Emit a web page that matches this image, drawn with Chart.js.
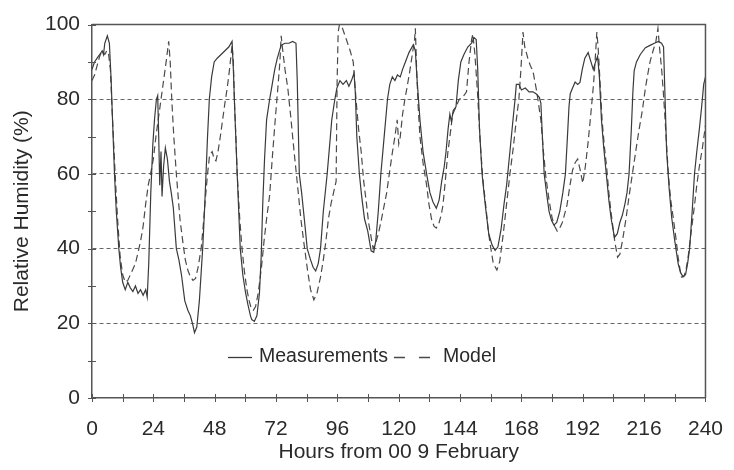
<!DOCTYPE html>
<html><head><meta charset="utf-8">
<script src="https://cdn.jsdelivr.net/npm/chart.js@4/dist/chart.umd.min.js"></script>
<style>html,body{margin:0;padding:0;background:#fff;}#wrap{width:734px;height:470px;}</style>
</head><body><div id="wrap"><canvas id="c" width="734" height="470"></canvas></div>
<script>
// ---- data ----
const seriesLabels = ['Measurements', 'Model'];
const xTitle = 'Hours from 00 9 February';
const yTitle = 'Relative Humidity (%)';
const xTickLabels = [0, 24, 48, 72, 96, 120, 144, 168, 192, 216, 240];
const yTickLabels = [0, 20, 40, 60, 80, 100];

const measHours = [0,1,2,3,4,4.5,5,6,6.8,7.5,8,8.8,9.5,10.5,11.2,12,13,14,15,16,17,18,19,20,21,21.6,22.2,23,23.8,24.5,25.2,25.7,26.1,26.5,27,27.4,28,28.7,29.5,30.3,31,31.8,33,34,35,36.3,37.5,38.5,39.3,40.1,41,42,43.3,44,44.6,45.2,45.9,46.8,47.8,49,50.5,52,53.5,54.8,55.3,55.8,56.8,58,59,60,61,62,62.5,63.5,64.5,65.5,66.2,66.8,67.5,68.3,69.5,70.5,71.5,72.5,74,75.5,77,78.5,79.8,80.3,81.1,82,83.2,84.2,85.5,86.5,87.5,88.5,89.4,90.5,92,93,93.8,95,95.8,97,98.2,99.5,100.5,101.5,102.5,103,103.6,104.6,105.5,106.6,107.9,109.2,110.2,111,112,113,114.3,115.6,116.5,117.5,118.5,119.5,120.6,121.5,122.6,124,125.7,126.5,127.2,128.3,129.5,130.9,132.2,133.4,134.7,135.8,136.8,137.8,138.5,139.3,140,140.6,141.3,142.4,143.3,144.3,145.5,147,148.5,149.5,150.3,150.9,151.6,152.6,153.8,155.2,156.5,157.7,158.8,160,161.2,162.2,163.5,164.7,165.5,166,167,168,169.5,171,172.5,173.7,175,175.6,176.2,176.9,178,178.8,179.8,180.7,181.8,183,184.2,185.2,186,186.6,187.1,188,189,190,190.9,191.8,192.8,194.1,195.2,196.1,197,197.8,198.5,199.3,200.2,201.2,202.2,203.1,204.4,205.5,206.5,207.5,208.5,209.3,210.1,211,211.6,212.1,213,214.5,216.5,218.5,220,221.6,222.8,223.6,224.2,224.8,225.8,226.8,228,229.3,230.3,231.2,232.2,233,233.8,234.8,235.7,236.6,237.6,238.5,239.3,240];
const measRH = [88,90,91,92,93,92,95,97,95,85,75,60,50,40,35,31,29,31,29.5,28.5,30,28,29,27.5,29,27,36,55,68,75,80,81,70,57,66,54,62,67,64,58,55,51,40,37,33,26,23.5,22,20,17.5,19,26,40,50,60,70,80,86,90,91,92,93,94,95.5,88,78,60,40,33,28.5,25,22,21,20.5,22,28,38,52,64,74.5,80,84,88,91,94.5,95,95,95.5,95,85,60,55,47,40,37,35,34,36,40,50,60,68,74.5,80,83,85,84,85,83.5,85,87,82,70,60,54,48,44.6,39.4,39,42,50,60,70,80,84,86,85,86.5,86,88,90,92.5,94.6,93,85,74.5,66,60,55,52.5,50.8,53,58,62,66,72,76,74,77,78,85,90,92,94,95,96.5,96,88,72,60,52,44,41,39.5,40.5,45,52,57,66,74.5,80,84,84,82.5,83,82,82,81.5,80.5,79,70,60,54,50,47.5,46.3,47,50,55,60,70,78,81.5,83,84.6,84,84.5,88,91,92.5,90,88,90,91.5,86,74.5,67,60,53,48,43,44,47,49,52,55,60,72,82,87.6,90,92,93.8,94.5,95,95.5,95,94,80,66,56,48.2,42,36,33.5,32.5,33,36,40,50,60,66,72,78,84,86];

const modelHours = [0,1,2,3,4,5,5.8,6.5,7.2,7.8,8.5,9.2,10,11,12,13,14,15,16,17,18,19,20,21,22,22.9,24,25,26,27,28,29,30,30.6,31.2,32,33,34.4,35.5,36.5,37.6,38.5,39.5,40.5,41.5,42.7,43.5,44.3,45.2,46,47,47.8,48.5,49.3,50.2,51,52,52.9,53.8,54.8,55.3,55.8,56.3,56.8,57.8,58.7,59.6,60.6,61.5,62.3,63.1,64,65,66.3,67.3,68.3,69.5,70.5,71.5,72.7,73.5,74,74.8,75.5,76.6,77.8,79.1,80.4,81.7,83,84.3,85.5,86.8,88,89.4,90.5,91.5,92.5,93.5,94.5,95.5,95.9,96.3,96.8,98,99.5,101,102.2,103.4,104.3,105.3,106.3,107.3,108.2,109.2,110,111,112,113,114.3,115.3,116.3,117.5,118.5,119.4,120,120.6,121.5,122.4,123.2,124.2,125.3,126.2,126.5,127,127.6,128.3,129.5,130.9,131.8,132.8,133.8,134.7,135.8,136.6,137.3,138.2,139.2,140.2,141.1,142.4,143.7,145,146.5,147.5,148.5,149,149.8,150.8,152,153,153.9,155,155.8,157,158.4,159.5,160.9,162.2,163.5,164.8,166,167,167.8,168.6,169.3,170.5,171.5,172.5,174,175.6,176.6,177.6,178.8,180,181,182,183,184,185.8,187,188,189,190,191,192,193,194,195,196.2,196.8,197.5,198,198.8,199.6,200.5,201.3,202.2,203,204.5,205.6,206.5,207.5,208.9,210.1,211.4,212.7,214,215.3,216.5,217.5,218.4,219.5,220.6,221.4,222,222.9,223.6,224.2,225.5,226.4,227.4,228.4,229.3,230,230.6,231.5,232.3,233.2,234.5,235.7,236.6,237.6,238.8,240];
const modelRH = [85,86.5,89,91.5,93,92,93,92,88,78,68,58,48,38,33,31,31.5,33,34.5,36,39,42,46,52,57,60,64,70,75,80,85,90,95.5,90,80,70,60,48,42,37,34,32.5,31.5,32,35,40,46,53,60,65,66,64,63.5,66,70,74,79,83,88,94.5,90,78,70,60,48,40,34,29,26,24,23.5,24.5,28,35,42,48,54.3,64,73,83,90,97,92,88,83,75,65.7,57,48,41,34.3,29,26.3,28,32.4,37,42,48,52,55,58,85,98,100,99,96,93,90,79,72,66,58,52.5,47,43,40,41.5,44,47,51.6,55,60,65.7,70,74.5,68,70,76,80,83,87,92,96,99,88,78,70,63,57,52,48,46,45.5,47,49,51.6,58,65.7,71,76,78,80,80.5,82,90,96,97.5,92,82,67,58,52.5,45,41,36,34.3,36.5,44,52,60,67,74.5,80,88,98,94,91,89,87.6,82,74.5,66,59,53,48.2,46,44.7,45.5,47,51.6,57,61,63,64,61,57.5,62,68,75,84,90,98,94,84,74,67,62,55,50,42,37.7,38.5,42,48,54,60,66,71.8,77,83,87,90.3,93,95.5,99,94,87.6,81,74.5,59.6,53,48.2,43,37.7,34.5,32.4,32.5,34,37.7,45,51.6,57,62,67,73];

// ---- styling ----
const FONT = "'Liberation Sans', Arial, Helvetica, sans-serif";
const INK = '#2a2a2a';
const AXIS = '#555';
const toXY = (hs, vs) => hs.map((h, i) => ({ x: h, y: vs[i] }));

const frameAndTicks = {
  id: 'frameAndTicks',
  afterDraw(chart) {
    const { ctx, chartArea: a, scales: { x, y } } = chart;
    ctx.save();
    ctx.strokeStyle = AXIS;
    ctx.lineWidth = 1.5;
    ctx.beginPath();
    ctx.moveTo(a.left, a.top); ctx.lineTo(a.right, a.top); ctx.lineTo(a.right, a.bottom);
    ctx.stroke();
    ctx.lineWidth = 1;
    ctx.beginPath();
    x.ticks.forEach(t => { const px = Math.round(x.getPixelForValue(t.value)) + 0.5; ctx.moveTo(px, a.bottom - 4); ctx.lineTo(px, a.bottom + 4); });
    y.ticks.forEach(t => { const py = Math.round(y.getPixelForValue(t.value)) + 0.5; ctx.moveTo(a.left - 4, py); ctx.lineTo(a.left + 4, py); });
    ctx.stroke();
    ctx.restore();
  }
};

const inlineLegend = {
  id: 'inlineLegend',
  afterDraw(chart) {
    const { ctx, chartArea: a } = chart;
    const ds = chart.data.datasets;
    const yy = a.bottom - 41;
    ctx.save();
    ctx.font = '19.5px ' + FONT;
    ctx.fillStyle = INK;
    ctx.textBaseline = 'middle';
    ctx.textAlign = 'left';
    let xx = a.left + 136;
    ds.forEach((d, i) => {
      ctx.strokeStyle = d.borderColor;
      ctx.lineWidth = 1.3;
      ctx.setLineDash(i ? [11, 14] : []);
      const len = i ? 36 : 24;
      ctx.beginPath(); ctx.moveTo(xx, yy + 0.5); ctx.lineTo(xx + len, yy + 0.5); ctx.stroke();
      xx += len + (i ? 13 : 7);
      ctx.fillText(d.label, xx, yy);
      xx += ctx.measureText(d.label).width + 6;
    });
    ctx.restore();
  }
};

new Chart(document.getElementById('c'), {
  type: 'line',
  data: {
    datasets: [
      { label: seriesLabels[0], data: toXY(measHours, measRH), borderColor: '#3a3a3a', borderWidth: 1.2, pointRadius: 0, tension: 0, fill: false },
      { label: seriesLabels[1], data: toXY(modelHours, modelRH), borderColor: '#4a4a4a', borderWidth: 1.2, borderDash: [7, 4], pointRadius: 0, tension: 0, fill: false }
    ]
  },
  options: {
    responsive: false,
    devicePixelRatio: 1,
    animation: false,
    layout: { padding: { top: 18, right: 18, left: 0, bottom: 0 } },
    plugins: { legend: { display: false }, tooltip: { enabled: false } },
    scales: {
      x: {
        type: 'linear', min: 0, max: 240,
        afterFit: s => { s.height = 72; },
        ticks: {
          stepSize: 12, autoSkip: false, maxRotation: 0, padding: 11,
          color: INK, font: { family: FONT, size: 21 },
          callback: v => (xTickLabels.includes(v) ? String(v) : '')
        },
        grid: { display: false },
        border: { display: true, color: AXIS, width: 1.5 },
        title: { display: true, text: xTitle, color: INK, font: { family: FONT, size: 21 }, padding: { top: 0, bottom: 5 } }
      },
      y: {
        type: 'linear', min: 0, max: 100,
        afterFit: s => { s.width = 92; },
        ticks: {
          stepSize: 10, autoSkip: false, padding: 12,
          color: INK, font: { family: FONT, size: 21 },
          callback: v => (yTickLabels.includes(v) ? String(v) : '')
        },
        grid: {
          drawTicks: false, lineWidth: 1,
          color: c => { const v = c.tick ? c.tick.value : -1; return (v > 0 && v < 100 && v % 20 === 0) ? '#666' : 'rgba(0,0,0,0)'; }
        },
        border: { display: true, color: AXIS, width: 1.5, dash: [4, 3] },
        title: { display: true, text: yTitle, color: INK, font: { family: FONT, size: 21 }, padding: { top: 10, bottom: 0 } }
      }
    }
  },
  plugins: [frameAndTicks, inlineLegend]
});
</script></body></html>
